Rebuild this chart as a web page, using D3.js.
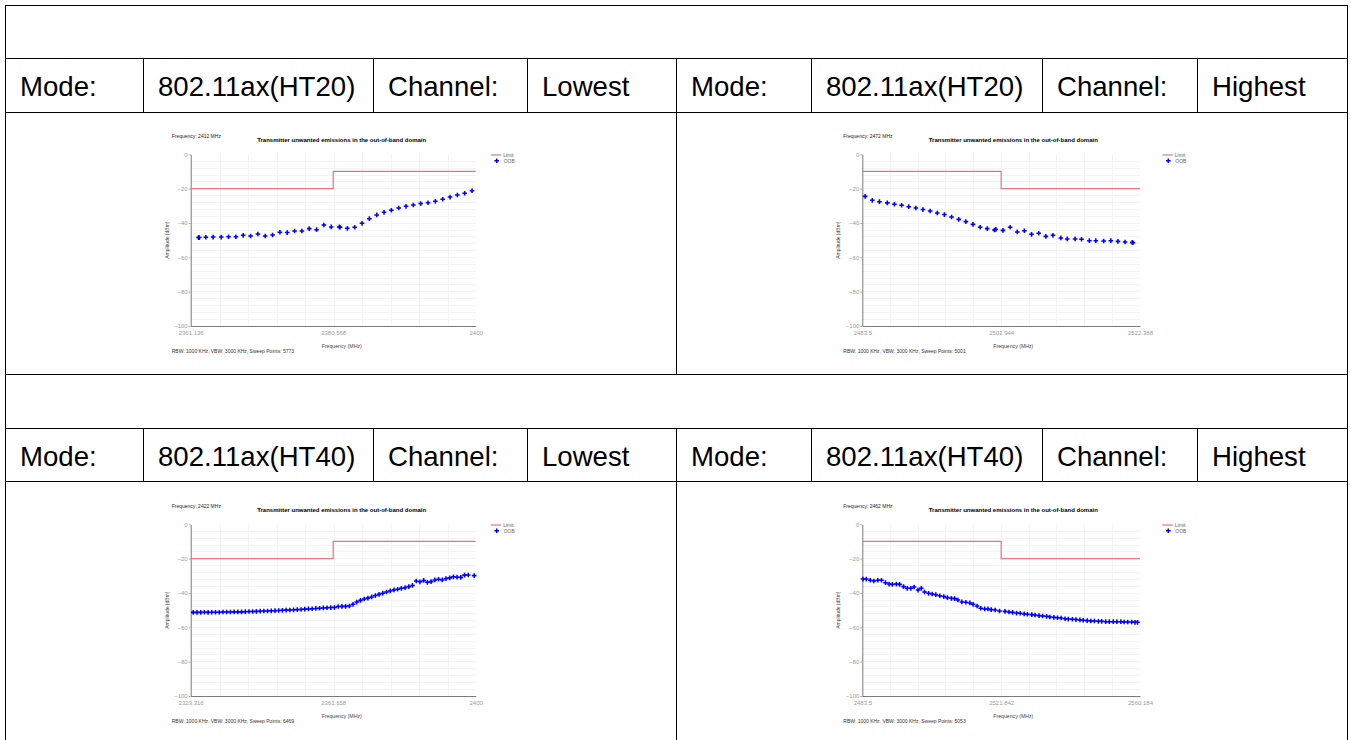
<!DOCTYPE html>
<html>
<head>
<meta charset="utf-8">
<script src="https://cdn.jsdelivr.net/npm/d3@7"></script>
<style>
  html, body { margin: 0; padding: 0; background: #fff; }
  svg { display: block; font-family: "Liberation Sans", Arial, sans-serif; }
</style>
</head>
<body>
<div id="page"></div>
<script>
// ---- table text ----
const headerHT20 = ['Mode:', '802.11ax(HT20)', 'Channel:', 'Lowest', 'Mode:', '802.11ax(HT20)', 'Channel:', 'Highest'];
const headerHT40 = ['Mode:', '802.11ax(HT40)', 'Channel:', 'Lowest', 'Mode:', '802.11ax(HT40)', 'Channel:', 'Highest'];

// ---- chart data ----
const chartTitle = 'Transmitter unwanted emissions in the out-of-band domain';
const yTickValues = [0, -20, -40, -60, -80, -100];

const ticksHT20Low = [2361.136, 2380.568, 2400];
const ticksHT20High = [2483.5, 2502.944, 2522.388];
const ticksHT40Low = [2323.316, 2361.658, 2400];
const ticksHT40High = [2483.5, 2521.842, 2560.184];

const limitHT20Low = [[2361.136, -20], [2380.568, -20], [2380.568, -10], [2400, -10]];
const limitHT20High = [[2483.5, -10], [2502.944, -10], [2502.944, -20], [2522.388, -20]];
const limitHT40Low = [[2323.316, -20], [2361.658, -20], [2361.658, -10], [2400, -10]];
const limitHT40High = [[2483.5, -10], [2521.842, -10], [2521.842, -20], [2560.184, -20]];

const oobHT20Low = [
  [2362.2, -48.5], [2362.3, -48.5], [2363.2, -48.3], [2364.2, -48.2], [2365.3, -48.2], [2366.3, -48.0],
  [2367.3, -48.0], [2368.3, -47.2], [2369.3, -47.6], [2370.3, -46.4], [2371.3, -47.6], [2372.3, -47.0],
  [2373.3, -45.4], [2374.3, -45.6], [2375.3, -44.7], [2376.3, -44.7], [2377.3, -43.3], [2378.3, -43.9],
  [2379.3, -41.2], [2380.3, -42.3], [2381.4, -42.3], [2381.5, -42.5], [2382.5, -43.1], [2383.5, -42.5],
  [2384.5, -40.2], [2385.5, -37.5], [2386.5, -35.3], [2387.5, -33.8], [2388.5, -32.6], [2389.5, -31.3],
  [2390.5, -30.3], [2391.5, -29.5], [2392.5, -28.7], [2393.5, -28.2], [2394.5, -27.4], [2395.5, -26.2],
  [2396.5, -24.9], [2397.5, -23.7], [2398.5, -22.7], [2399.5, -21.2]
];

const oobHT20High = [
  [2483.9, -24.5], [2484.9, -26.8], [2485.9, -27.6], [2487.0, -28.3], [2488.0, -29.1], [2489.0, -29.7],
  [2490.0, -30.5], [2491.0, -31.3], [2492.0, -32.2], [2493.0, -33.0], [2494.0, -34.2], [2495.0, -35.1],
  [2496.0, -36.5], [2497.0, -37.9], [2498.0, -39.2], [2499.0, -40.8], [2500.0, -42.5], [2501.0, -43.3],
  [2502.0, -44.1], [2502.2, -43.7], [2503.2, -44.3], [2504.2, -42.5], [2505.2, -45.2], [2506.2, -44.5],
  [2507.2, -46.6], [2508.2, -46.0], [2509.2, -47.8], [2510.2, -47.2], [2511.3, -48.7], [2512.2, -49.3],
  [2513.3, -49.3], [2514.2, -49.5], [2515.3, -50.3], [2516.2, -50.3], [2517.3, -50.5], [2518.3, -50.3],
  [2519.3, -50.7], [2520.3, -51.1], [2521.3, -51.3], [2521.4, -51.5]
];

const oobHT40Low = [
  [2324, -51.3], [2325, -51.3], [2326, -51.3], [2327, -51.2], [2328, -51.3], [2329, -51.2], [2330, -51.2],
  [2331, -51.2], [2332, -51.1], [2333, -51.1], [2334, -51.1], [2335, -51.0], [2336, -51.0], [2337, -51.0],
  [2338, -50.9], [2339, -50.8], [2340, -50.8], [2341, -50.7], [2342, -50.6], [2343, -50.5], [2344, -50.5],
  [2345, -50.4], [2346, -50.3], [2347, -50.2], [2348, -50.1], [2349, -50.0], [2350, -49.9], [2351, -49.8],
  [2352, -49.7], [2353, -49.6], [2354, -49.4], [2355, -49.3], [2356, -49.2], [2357, -49.0], [2358, -48.9],
  [2359, -48.7], [2360, -48.6], [2361, -48.5], [2362, -48.4], [2363, -47.9], [2364, -47.8], [2365, -47.8],
  [2366, -47.6], [2367, -46.6], [2368, -45.3], [2369, -44.3], [2370, -43.5], [2371, -43.0], [2372, -42.3],
  [2373, -41.5], [2374, -40.8], [2375, -40.1], [2376, -39.4], [2377, -38.8], [2378, -38.2], [2379, -37.8],
  [2380, -37.3], [2381, -36.9], [2382, -36.3], [2383, -35.6], [2384, -33.0], [2385, -33.5], [2386, -32.7],
  [2387, -33.8], [2388, -33.4], [2389, -32.4], [2390, -32.0], [2391, -32.4], [2392, -31.6], [2393, -31.2],
  [2394, -30.6], [2395, -30.8], [2396, -30.9], [2397, -29.6], [2398, -29.5], [2399.6, -29.9]
];

const oobHT40High = [
  [2483.7, -31.9], [2484.6, -31.9], [2485.7, -32.6], [2486.7, -33.0], [2487.8, -32.6], [2488.8, -32.6],
  [2489.9, -34.0], [2490.9, -34.8], [2491.8, -35.0], [2492.9, -34.8], [2493.8, -35.0], [2494.9, -36.3],
  [2495.9, -37.3], [2496.9, -37.3], [2497.8, -36.5], [2498.9, -38.3], [2499.8, -37.3], [2500.7, -39.4],
  [2501.8, -40.2], [2502.8, -40.6], [2503.8, -41.0], [2504.9, -41.6], [2506.0, -42.1], [2507.0, -42.7],
  [2508.1, -43.1], [2509.0, -43.3], [2509.9, -44.1], [2511.0, -45.2], [2512.1, -45.4], [2513.2, -45.8],
  [2514.1, -46.6], [2515.2, -47.6], [2516.2, -48.9], [2517.3, -49.3], [2518.2, -49.3], [2519.1, -49.7],
  [2520.2, -49.9], [2521.4, -50.5], [2522.9, -50.7], [2524.0, -51.1], [2525.0, -51.3], [2526.1, -51.7],
  [2527.1, -51.8], [2528.2, -52.2], [2529.1, -52.4], [2530.3, -52.6], [2531.2, -52.8], [2532.3, -53.2],
  [2533.3, -53.4], [2534.4, -53.6], [2535.3, -54.0], [2536.4, -54.2], [2537.4, -54.4], [2538.4, -54.6],
  [2539.5, -55.0], [2540.4, -55.2], [2541.5, -55.3], [2542.5, -55.5], [2543.6, -55.7], [2544.5, -55.9],
  [2545.6, -56.1], [2546.6, -56.3], [2547.6, -56.3], [2548.7, -56.5], [2549.6, -56.5], [2550.7, -56.7],
  [2551.7, -56.7], [2552.8, -56.7], [2553.8, -56.7], [2554.9, -56.7], [2555.8, -56.9], [2556.8, -56.9],
  [2557.9, -56.9], [2558.8, -57.1], [2559.5, -57.1]
];

// ---- layout ----
const W = 1351, H = 740;
const colX = [5, 143, 373, 527, 676, 811, 1042, 1197, 1347];
const headerRowTops = [58, 428];
const headerRowH = 54;
const plotH = 171.7;

const charts = [
  { centre: 2412, sweep: 5773, ticks: ticksHT20Low, limit: limitHT20Low, oob: oobHT20Low, left: 190.7, top: 154.3, width: 285 },
  { centre: 2472, sweep: 5001, ticks: ticksHT20High, limit: limitHT20High, oob: oobHT20High, left: 862.3, top: 154.3, width: 277.7 },
  { centre: 2422, sweep: 6469, ticks: ticksHT40Low, limit: limitHT40Low, oob: oobHT40Low, left: 190.7, top: 524.3, width: 285 },
  { centre: 2462, sweep: 5053, ticks: ticksHT40High, limit: limitHT40High, oob: oobHT40High, left: 862.3, top: 524.3, width: 277.7 }
];

const svg = d3.select('#page').append('svg')
  .attr('width', W)
  .attr('height', H);

svg.append('rect').attr('width', W).attr('height', H).attr('fill', '#fff');

// ---- table grid ----
const table = svg.append('g').attr('stroke', '#000').attr('stroke-width', 1).attr('shape-rendering', 'crispEdges');

[5, 58, 112, 374, 428, 481].forEach(yy => {
  table.append('line').attr('x1', 5).attr('x2', 1347).attr('y1', yy + 0.5).attr('y2', yy + 0.5);
});
[5, 1347].forEach(xx => {
  table.append('line').attr('x1', xx + 0.5).attr('x2', xx + 0.5).attr('y1', 5).attr('y2', H);
});
headerRowTops.forEach(top => {
  colX.slice(1, -1).forEach(xx => {
    table.append('line').attr('x1', xx + 0.5).attr('x2', xx + 0.5).attr('y1', top).attr('y2', top + headerRowH);
  });
});
[[112, 374], [481, H]].forEach(([a, b]) => {
  table.append('line').attr('x1', 676.5).attr('x2', 676.5).attr('y1', a).attr('y2', b);
});

[headerHT20, headerHT40].forEach((cells, r) => {
  svg.append('g').selectAll('text')
    .data(cells)
    .join('text')
    .attr('x', (d, i) => colX[i] + 15)
    .attr('y', headerRowTops[r] + 38)
    .style('font-size', '27.6px')
    .attr('fill', '#000')
    .text(d => d);
});

// ---- charts ----
function drawChart(c) {
  const g = svg.append('g').attr('transform', `translate(${c.left},${c.top})`);

  const x = d3.scaleLinear().domain([c.ticks[0], c.ticks[2]]).range([0, c.width]);
  const y = d3.scaleLinear().domain([0, -100]).range([0, plotH]);

  // light grid
  const grid = g.append('g').attr('stroke', '#f3f3f3').attr('stroke-width', 1).attr('shape-rendering', 'crispEdges');
  grid.selectAll('.vg')
    .data(d3.range(1, 10))
    .join('line')
    .attr('class', 'vg')
    .attr('x1', i => Math.round(c.width * i / 10) + 0.5)
    .attr('x2', i => Math.round(c.width * i / 10) + 0.5)
    .attr('y1', 0)
    .attr('y2', plotH);
  grid.selectAll('.hg')
    .data(d3.range(-4, -100, -4))
    .join('line')
    .attr('class', 'hg')
    .attr('x1', 0)
    .attr('x2', c.width)
    .attr('y1', d => Math.round(y(d)) + 0.5)
    .attr('y2', d => Math.round(y(d)) + 0.5);

  // axes
  const yAxis = g.append('g')
    .call(d3.axisLeft(y).tickValues(yTickValues).tickSize(2).tickSizeOuter(0).tickPadding(1));
  const xAxis = g.append('g')
    .attr('transform', `translate(0,${plotH})`)
    .call(d3.axisBottom(x).tickValues(c.ticks).tickSize(0).tickSizeOuter(0).tickPadding(5)
      .tickFormat(d => String(d)));
  [yAxis, xAxis].forEach(a => {
    a.select('.domain').attr('stroke', '#7a7a7a').attr('stroke-width', 1);
    a.selectAll('.tick line').attr('stroke', '#aaa');
    a.selectAll('text')
      .attr('fill', '#9a9a9a')
      .style('font-size', '6px')
      .style('font-family', '"Liberation Sans", Arial, sans-serif');
  });

  // limit line
  g.append('path')
    .datum(c.limit)
    .attr('fill', 'none')
    .attr('stroke', '#e07a7a')
    .attr('stroke-width', 1.2)
    .attr('d', d3.line().x(d => x(d[0])).y(d => y(d[1])));

  // OOB points
  const cross = d3.symbol().type(d3.symbolCross).size(12);
  g.append('g').selectAll('path')
    .data(c.oob)
    .join('path')
    .attr('transform', d => `translate(${x(d[0])},${y(d[1])})`)
    .attr('d', cross)
    .attr('fill', '#0000ff');

  // texts
  g.append('text')
    .attr('x', -19).attr('y', -16.5)
    .style('font-size', '5px').attr('fill', '#222')
    .text(`Frequency: ${c.centre} MHz`);
  g.append('text')
    .attr('x', 151).attr('y', -12)
    .attr('text-anchor', 'middle')
    .style('font-size', '6px').style('font-weight', 'bold').attr('fill', '#000')
    .text(chartTitle);
  g.append('text')
    .attr('transform', `translate(-22,${plotH / 2}) rotate(-90)`)
    .attr('text-anchor', 'middle')
    .style('font-size', '5px').attr('fill', '#444')
    .text('Amplitude (dBm)');
  g.append('text')
    .attr('x', 151).attr('y', plotH + 22.2)
    .attr('text-anchor', 'middle')
    .style('font-size', '5.2px').attr('fill', '#444')
    .text('Frequency (MHz)');
  g.append('text')
    .attr('x', -19).attr('y', plotH + 26.6)
    .style('font-size', '5px').attr('fill', '#333')
    .text(`RBW: 1000 KHz,  VBW: 3000 KHz,  Sweep Points: ${c.sweep}`);

  // legend
  const lg = g.append('g').attr('transform', 'translate(300,0)');
  lg.append('line')
    .attr('x1', 0).attr('x2', 10.5).attr('y1', 0.7).attr('y2', 0.7)
    .attr('stroke', '#e07a7a').attr('stroke-width', 1.2);
  lg.append('text')
    .attr('x', 12.5).attr('y', 2.4)
    .style('font-size', '5px').attr('fill', '#666')
    .text('Limit');
  lg.append('path')
    .attr('transform', 'translate(6,6.5)')
    .attr('d', cross)
    .attr('fill', '#0000ff');
  lg.append('text')
    .attr('x', 13).attr('y', 8.4)
    .style('font-size', '5px').attr('fill', '#666')
    .text('OOB');
}

charts.forEach(drawChart);
</script>
</body>
</html>
